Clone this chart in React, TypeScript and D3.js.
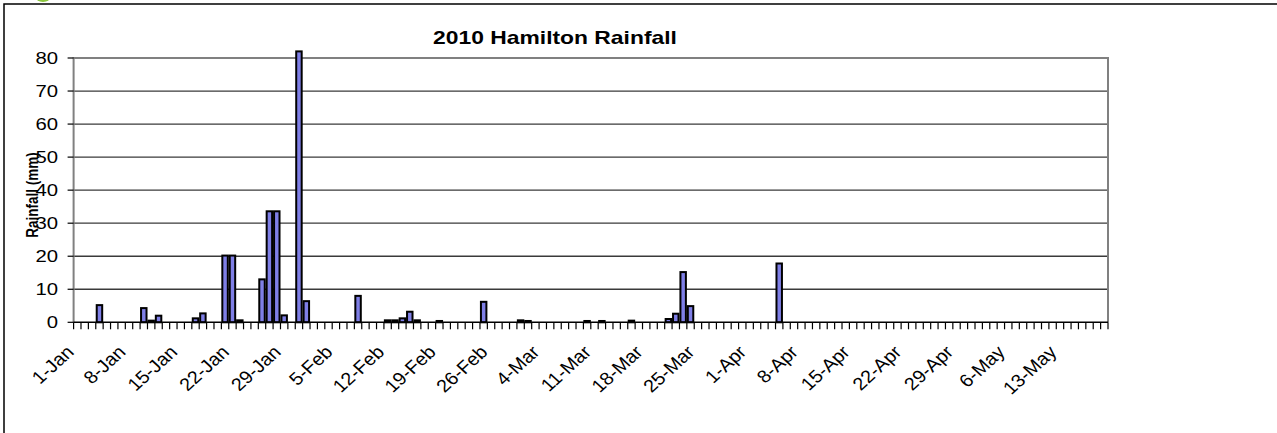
import { useEffect, useRef } from "react"
import * as d3 from "d3"

const W = 1277
const H = 433

// daily rainfall (mm), one row per month (dates on the sheet fall on a leap-year calendar)
const janRain = [
  0, 0, 0, 5.2, 0, 0, 0, 0, 0, 4.3, 0.5, 2.0, 0, 0, 0, 0, 1.2, 2.7, 0, 0, 20.2, 20.2, 0.6, 0, 0, 13.0, 33.6,
  33.6, 2.1, 0, 82,
]
const febRain = [
  6.4, 0, 0, 0, 0, 0, 0, 8.0, 0, 0, 0, 0.6, 0.6, 1.2, 3.2, 0.6, 0, 0, 0.4, 0, 0, 0, 0, 0, 6.2, 0, 0, 0, 0,
]
const marRain = [
  0.6, 0.4, 0, 0, 0, 0, 0, 0, 0, 0.4, 0, 0.4, 0, 0, 0, 0.5, 0, 0, 0, 0, 1.0, 2.6, 15.2, 4.9, 0, 0, 0, 0, 0, 0,
  0,
]
const aprRain = [0, 0, 0, 0, 17.8, 0, 0, 0, 0, 0, 0, 0, 0, 0, 0, 0, 0, 0, 0, 0, 0, 0, 0, 0, 0, 0, 0, 0, 0, 0]
const mayRain = [0, 0, 0, 0, 0, 0, 0, 0, 0, 0, 0, 0, 0, 0, 0, 0, 0, 0, 0]

const tickLabels = [
  "1-Jan", "8-Jan", "15-Jan", "22-Jan", "29-Jan", "5-Feb", "12-Feb", "19-Feb", "26-Feb", "4-Mar",
  "11-Mar", "18-Mar", "25-Mar", "1-Apr", "8-Apr", "15-Apr", "22-Apr", "29-Apr", "6-May", "13-May",
]
const yTicks = [0, 10, 20, 30, 40, 50, 60, 70, 80]

const fmt = d3.timeFormat("%-d-%b")
const days = d3.timeDay.range(new Date(2008, 0, 1), new Date(2008, 4, 20)).map((d) => fmt(d))
const rain = [...janRain, ...febRain, ...marRain, ...aprRain, ...mayRain]

export default function App() {
  const svgRef = useRef<SVGSVGElement>(null)

  useEffect(() => {
    if (!svgRef.current) return
    const svg = d3.select(svgRef.current)
    svg.selectAll("*").remove()

    const plot = { left: 73.6, right: 1108, top: 58, bottom: 322.3 }
    const sx = 1.27 // the original picture is stretched sideways
    const font = "Arial, 'Liberation Sans', sans-serif"

    const x = d3
      .scaleBand<string>()
      .domain(days)
      .range([plot.left, plot.right])
      .paddingInner(0.26)
      .paddingOuter(0.13)
    const step = x.step()
    const y = d3.scaleLinear().domain([0, 80]).range([plot.bottom, plot.top])

    // * background + chart frame
    svg.append("rect").attr("width", W).attr("height", H).attr("fill", "#fff")
    svg
      .append("ellipse")
      .attr("cx", 43)
      .attr("cy", -4)
      .attr("rx", 8)
      .attr("ry", 6)
      .attr("fill", "#8cc63e")
    svg
      .append("path")
      .attr("d", `M4,${H + 2}V4H${W + 2}`)
      .attr("fill", "none")
      .attr("stroke", "#000")
      .attr("stroke-width", 1.5)

    // * gridlines
    svg
      .append("g")
      .selectAll("line")
      .data(yTicks.filter((t) => t > 0))
      .join("line")
      .attr("x1", plot.left)
      .attr("x2", plot.right)
      .attr("y1", (d) => y(d))
      .attr("y2", (d) => y(d))
      .attr("stroke", "#3a3a3a")
      .attr("stroke-width", 1.3)

    // * plot border (right + left)
    svg
      .append("path")
      .attr("d", `M${plot.left},${plot.bottom}V${plot.top}H${plot.right}V${plot.bottom}`)
      .attr("fill", "none")
      .attr("stroke", "#808080")
      .attr("stroke-width", 2)

    // * bars
    svg
      .append("g")
      .selectAll("rect")
      .data(rain.map((v, i) => ({ day: days[i], v })).filter((d) => d.v > 0))
      .join("rect")
      .attr("x", (d) => x(d.day)!)
      .attr("y", (d) => y(d.v))
      .attr("width", x.bandwidth())
      .attr("height", (d) => y(0) - y(d.v))
      .attr("fill", "#7f7fe6")
      .attr("stroke", "#000")
      .attr("stroke-width", 2)

    // * x axis line + ticks between categories
    svg
      .append("line")
      .attr("x1", plot.left)
      .attr("x2", plot.right)
      .attr("y1", plot.bottom)
      .attr("y2", plot.bottom)
      .attr("stroke", "#000")
      .attr("stroke-width", 1.5)
    svg
      .append("g")
      .selectAll("line")
      .data(d3.range(days.length + 1))
      .join("line")
      .attr("x1", (i) => plot.left + i * step)
      .attr("x2", (i) => plot.left + i * step)
      .attr("y1", plot.bottom)
      .attr("y2", plot.bottom + 7)
      .attr("stroke", "#000")
      .attr("stroke-width", 1.2)

    // * y ticks + labels
    svg
      .append("g")
      .selectAll("line")
      .data(yTicks)
      .join("line")
      .attr("x1", plot.left - 6)
      .attr("x2", plot.left)
      .attr("y1", (d) => y(d))
      .attr("y2", (d) => y(d))
      .attr("stroke", "#000")
      .attr("stroke-width", 1.2)
    svg
      .append("g")
      .selectAll("text")
      .data(yTicks)
      .join("text")
      .attr("transform", (d) => `translate(58,${y(d)}) scale(${sx},1)`)
      .attr("text-anchor", "end")
      .attr("dy", "0.36em")
      .attr("font-family", font)
      .attr("font-size", 16)
      .attr("fill", "#000")
      .text((d) => d)

    // * x labels (rotated)
    svg
      .append("g")
      .selectAll("text")
      .data(tickLabels)
      .join("text")
      .attr(
        "transform",
        (d) => `translate(${x(d)! + x.bandwidth() / 2 - 12},${plot.bottom + 22}) scale(1.1,1) rotate(-45)`
      )
      .attr("text-anchor", "end")
      .attr("dy", "0.7em")
      .attr("font-family", font)
      .attr("font-size", 18)
      .attr("fill", "#000")
      .text((d) => d)

    // * title
    svg
      .append("text")
      .attr("transform", `translate(555,44) scale(${sx},1)`)
      .attr("text-anchor", "middle")
      .attr("font-family", font)
      .attr("font-size", 18)
      .attr("font-weight", "bold")
      .text("2010 Hamilton Rainfall")

    // * y axis title
    svg
      .append("text")
      .attr("transform", `translate(38,195) scale(${sx},1) rotate(-90)`)
      .attr("text-anchor", "middle")
      .attr("font-family", font)
      .attr("font-size", 13.5)
      .attr("font-weight", "bold")
      .text("Rainfall (mm)")
  }, [])

  return (
    <svg
      ref={svgRef}
      width={W}
      height={H}
      style={{ position: "absolute", left: 0, top: 0, display: "block" }}
    ></svg>
  )
}
